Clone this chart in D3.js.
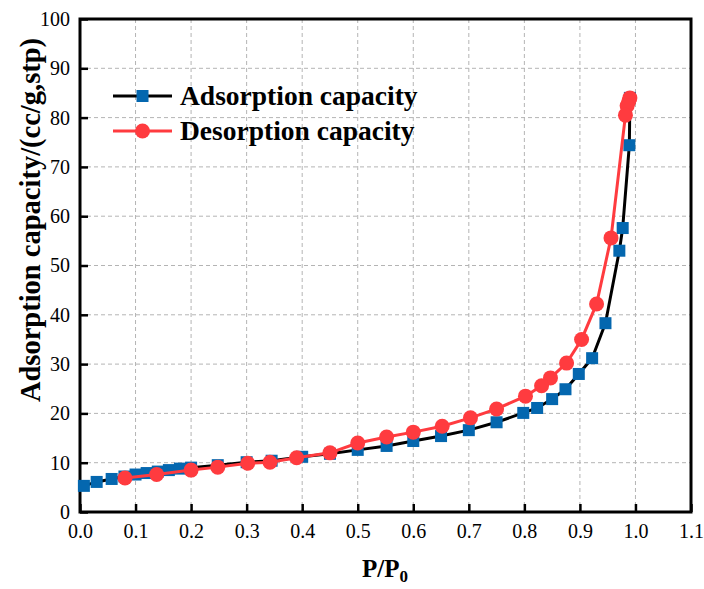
<!DOCTYPE html>
<html><head><meta charset="utf-8">
<script src="https://cdn.jsdelivr.net/npm/d3@7"></script>
<style>body{margin:0;background:#fff}svg{display:block}</style>
</head><body>
<svg id="c" width="704" height="589" style="font-family:'Liberation Serif','DejaVu Serif',serif"></svg>
<script>
const adsX = [0.007,0.03,0.057,0.08,0.1,0.12,0.14,0.16,0.18,0.2,0.248,0.3,0.345,0.4,0.45,0.5,0.552,0.6,0.65,0.7,0.75,0.798,0.823,0.85,0.874,0.898,0.922,0.946,0.971,0.977,0.989,0.99];
const adsY = [5.3,6.1,6.7,7.2,7.6,7.9,8.2,8.5,8.8,9.0,9.5,10.1,10.4,11.2,11.8,12.6,13.4,14.4,15.4,16.6,18.2,20.1,21.1,22.9,24.9,28.0,31.2,38.3,53.0,57.6,74.4,84.0];
const desX = [0.99,0.988,0.985,0.982,0.956,0.93,0.903,0.876,0.847,0.831,0.802,0.75,0.703,0.652,0.6,0.552,0.5,0.45,0.39,0.342,0.302,0.248,0.2,0.138,0.081];
const desY = [84.0,83.3,82.4,80.5,55.6,42.2,35.0,30.2,27.2,25.6,23.5,20.9,19.1,17.4,16.2,15.2,14.0,12.0,11.0,10.1,9.9,9.1,8.5,7.6,6.9];
const xTicks = [0,0.1,0.2,0.3,0.4,0.5,0.6,0.7,0.8,0.9,1.0,1.1];
const yTicks = [0,10,20,30,40,50,60,70,80,90,100];
const seriesNames = ["Adsorption capacity","Desorption capacity"];

const FONT = "'Liberation Serif', 'DejaVu Serif', serif";
const svg = d3.select("#c");
const L=80,R=691,T=19,B=512;
const x = d3.scaleLinear().domain([0,1.1]).range([L,R]);
const y = d3.scaleLinear().domain([0,100]).range([B,T]);

// grid
const g = svg.append("g");
g.selectAll("line.vg").data(xTicks.slice(1,-1)).join("line")
  .attr("x1",d=>x(d)).attr("x2",d=>x(d)).attr("y1",T).attr("y2",B)
  .attr("stroke","#b4b4b4").attr("stroke-width",1).attr("stroke-dasharray","4,3");
g.selectAll("line.hg").data(yTicks.slice(1,-1)).join("line")
  .attr("y1",d=>y(d)).attr("y2",d=>y(d)).attr("x1",L).attr("x2",R)
  .attr("stroke","#b4b4b4").attr("stroke-width",1).attr("stroke-dasharray","4,3");

// axes
const xa = svg.append("g").attr("transform",`translate(0,${B})`)
  .call(d3.axisBottom(x).tickValues(xTicks).tickFormat(d3.format(".1f")).tickSizeInner(-8).tickSizeOuter(0).tickPadding(12));
const ya = svg.append("g").attr("transform",`translate(${L},0)`)
  .call(d3.axisLeft(y).tickValues(yTicks).tickFormat(d3.format("d")).tickSizeInner(-8).tickSizeOuter(0).tickPadding(10));
[xa,ya].forEach(a=>{
  a.select(".domain").remove();
  a.attr("font-family",FONT);
  a.selectAll(".tick line").attr("stroke","#000").attr("stroke-width",2.5);
  a.selectAll("text").attr("font-size",20).attr("fill","#000").style("font-family",FONT);
});
xa.selectAll("text").attr("dy","0.71em");
// frame
svg.append("rect").attr("x",L).attr("y",T).attr("width",R-L).attr("height",B-T)
  .attr("fill","none").attr("stroke","#000").attr("stroke-width",3);

// lines
const ads = adsX.map((d,i)=>[d,adsY[i]]);
const des = desX.map((d,i)=>[d,desY[i]]);
const line = d3.line().x(d=>x(d[0])).y(d=>y(d[1]));
svg.append("path").datum(ads).attr("d",line).attr("fill","none").attr("stroke","#000").attr("stroke-width",3);
svg.selectAll("rect.a").data(ads).join("rect").attr("class","a")
  .attr("x",d=>x(d[0])-6).attr("y",d=>y(d[1])-6).attr("width",12).attr("height",12).attr("fill","#0467AF");
svg.append("path").datum(des).attr("d",line).attr("fill","none").attr("stroke","#FF3B3F").attr("stroke-width",3);
svg.selectAll("circle.d").data(des).join("circle").attr("class","d")
  .attr("cx",d=>x(d[0])).attr("cy",d=>y(d[1])).attr("r",7.5).attr("fill","#FF3B3F");

// legend
const lg = svg.append("g");
lg.append("line").attr("x1",113).attr("x2",172).attr("y1",96).attr("y2",96).attr("stroke","#000").attr("stroke-width",3);
lg.append("rect").attr("x",136.5).attr("y",90).attr("width",12).attr("height",12).attr("fill","#0467AF");
lg.append("line").attr("x1",113).attr("x2",172).attr("y1",131).attr("y2",131).attr("stroke","#FF3B3F").attr("stroke-width",3);
lg.append("circle").attr("cx",142.5).attr("cy",131).attr("r",7.5).attr("fill","#FF3B3F");
lg.selectAll("text").data(seriesNames).join("text")
  .attr("x",180).attr("y",(d,i)=>105+i*35).text(d=>d)
  .attr("font-weight","bold").attr("font-size",27.5).attr("fill","#000").style("font-family",FONT);

// titles
svg.append("text").attr("transform","translate(40,220) rotate(-90)").attr("text-anchor","middle")
  .style("font-family",FONT).attr("font-weight","bold").attr("font-size",28.5).text("Adsorption capacity/(cc/g,stp)");
const xt = svg.append("text").attr("x",385).attr("y",577).attr("text-anchor","middle")
  .style("font-family",FONT).attr("font-weight","bold").attr("font-size",25);
xt.append("tspan").text("P/P");
xt.append("tspan").attr("dy",5).attr("font-size",17).text("0");
</script>
</body></html>
